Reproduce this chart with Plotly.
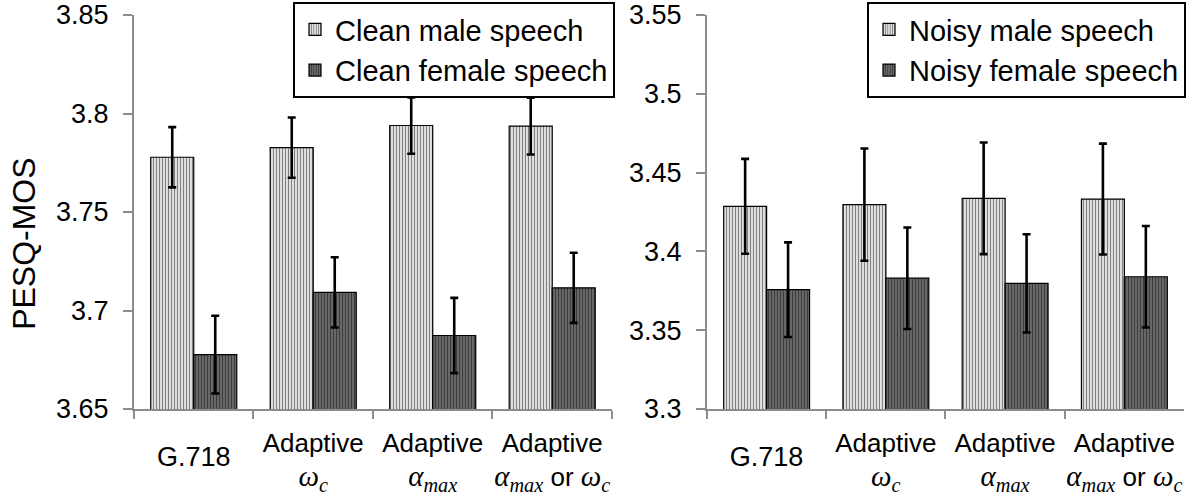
import plotly.graph_objects as go

# ---------------- data ----------------
categories = ["G.718", "Adaptive ωc", "Adaptive αmax", "Adaptive αmax or ωc"]

MATH = "font-family:Liberation Serif;font-size:29px"
W_C = f'<span style="{MATH}"><i>ω</i><sub><i>c</i></sub></span>'
A_MAX = f'<span style="{MATH}"><i>α</i><sub><i>max</i></sub></span>'
tick_labels = ["", "Adaptive<br>" + W_C, "Adaptive<br>" + A_MAX, "Adaptive<br>" + A_MAX + " or " + W_C]
first_label = ["G.718"]
y_title = "PESQ-MOS"

clean_male = [3.7778, 3.7827, 3.7939, 3.7936]
clean_male_err = [0.0153, 0.0153, 0.0143, 0.0144]
clean_female = [3.6776, 3.7092, 3.6873, 3.7115]
clean_female_err = [0.0197, 0.0178, 0.0191, 0.0178]

noisy_male = [3.4286, 3.4297, 3.4337, 3.4332]
noisy_male_err = [0.0301, 0.0356, 0.0354, 0.0352]
noisy_female = [3.3757, 3.3830, 3.3797, 3.3839]
noisy_female_err = [0.0300, 0.0322, 0.0312, 0.0322]

left_ticks = [3.65, 3.70, 3.75, 3.80, 3.85]
left_ticktext = ["3.65", "3.7", "3.75", "3.8", "3.85"]
right_ticks = [3.30, 3.35, 3.40, 3.45, 3.50, 3.55]
right_ticktext = ["3.3", "3.35", "3.4", "3.45", "3.5", "3.55"]

series_names = ["Clean male speech", "Clean female speech", "Noisy male speech", "Noisy female speech"]

# ---------------- style ----------------
FONT = "Liberation Sans, Arial, sans-serif"
AXIS_GRAY = "#8c8c8c"
male_pattern = dict(shape="|", fgcolor="black", bgcolor="white", size=3, solidity=0.5)
female_pattern = dict(shape="|", fgcolor="black", bgcolor="#777777", size=3, solidity=0.5)
err_style = dict(type="data", visible=True, color="black", thickness=2.6, width=4)


def bar(name, x, y, err, pattern, xa, ya, legend):
    return go.Bar(
        name=name, x=x, y=y, xaxis=xa, yaxis=ya, legend=legend,
        marker=dict(color=pattern["bgcolor"], pattern=pattern,
                    line=dict(color="black", width=1.2)),
        error_y=dict(array=err, **err_style),
    )


fig = go.Figure()
fig.add_trace(bar(series_names[0], categories, clean_male, clean_male_err, male_pattern, "x", "y", "legend"))
fig.add_trace(bar(series_names[1], categories, clean_female, clean_female_err, female_pattern, "x", "y", "legend"))
fig.add_trace(bar(series_names[2], categories, noisy_male, noisy_male_err, male_pattern, "x2", "y2", "legend2"))
fig.add_trace(bar(series_names[3], categories, noisy_female, noisy_female_err, female_pattern, "x2", "y2", "legend2"))

# invisible helpers that register categories on the overlay axes (used for the G.718 label)
for xa, ya, vals in (("x3", "y", clean_male), ("x4", "y2", noisy_male)):
    fig.add_trace(go.Scatter(x=categories, y=vals, xaxis=xa, yaxis=ya, mode="markers",
                             marker=dict(opacity=0), showlegend=False, hoverinfo="skip"))

tickfont = dict(family=FONT, size=26, color="black")
yfont = dict(family=FONT, size=27, color="black")


def xaxis(domain, anchor):
    return dict(domain=domain, anchor=anchor, type="category", categoryorder="array",
                categoryarray=categories, range=[-0.5, 3.5],
                tickmode="array", tickvals=categories, ticktext=tick_labels, tickangle=0,
                showline=True, linecolor=AXIS_GRAY, linewidth=2, ticks="outside",
                tickson="boundaries", ticklen=8, tickwidth=2, tickcolor=AXIS_GRAY,
                showgrid=False, zeroline=False, tickfont=tickfont, automargin=False,
                ticklabelstandoff=10, fixedrange=True)


def overlay_x(over, anchor):
    return dict(overlaying=over, anchor=anchor, matches=over, type="category",
                categoryorder="array", categoryarray=categories, tickangle=0,
                tickmode="array", tickvals=categories[:1], ticktext=first_label,
                showline=False, ticks="", showgrid=False, zeroline=False,
                tickfont=dict(family=FONT, size=27, color="black"),
                ticklabelstandoff=29, automargin=False)


def yaxis(ticks, text, rng, anchor):
    return dict(domain=[0, 1], anchor=anchor, range=rng, tickmode="array", tickvals=ticks,
                ticktext=text, showline=True, linecolor=AXIS_GRAY, linewidth=2,
                ticks="outside", ticklen=9, tickwidth=2, tickcolor=AXIS_GRAY,
                showgrid=False, zeroline=False, tickfont=yfont, ticklabelstandoff=9,
                automargin=False, fixedrange=True)


legend_style = dict(bgcolor="white", bordercolor="black", borderwidth=2,
                    font=dict(family=FONT, size=29, color="black"),
                    xanchor="right", yanchor="top", itemwidth=30, tracegroupgap=0)

fig.update_layout(
    width=1200, height=497,
    margin=dict(l=134, r=16, t=15, b=88, autoexpand=False),
    paper_bgcolor="white", plot_bgcolor="white",
    barmode="group", bargap=0.28, bargroupgap=0,
    xaxis=xaxis([0, 0.4552], "y"),
    xaxis2=xaxis([0.5457, 1.0], "y2"),
    xaxis3=overlay_x("x", "y"),
    xaxis4=overlay_x("x2", "y2"),
    yaxis=yaxis(left_ticks, left_ticktext, [3.65, 3.85], "x"),
    yaxis2=yaxis(right_ticks, right_ticktext, [3.30, 3.55], "x2"),
    legend=dict(x=0.4581, y=1.033, **legend_style),
    legend2=dict(x=1.0019, y=1.033, **legend_style),
    font=dict(family=FONT, color="black"),
    annotations=[dict(text=y_title, textangle=-90, xref="paper", yref="paper",
                      x=-0.1048, y=0.419, xanchor="center", yanchor="middle",
                      showarrow=False, font=dict(family=FONT, size=32, color="black"))],
)

fig.write_html("out.html", config={"displayModeBar": False},
               post_script="document.body.style.margin='0';document.body.style.padding='0';")
